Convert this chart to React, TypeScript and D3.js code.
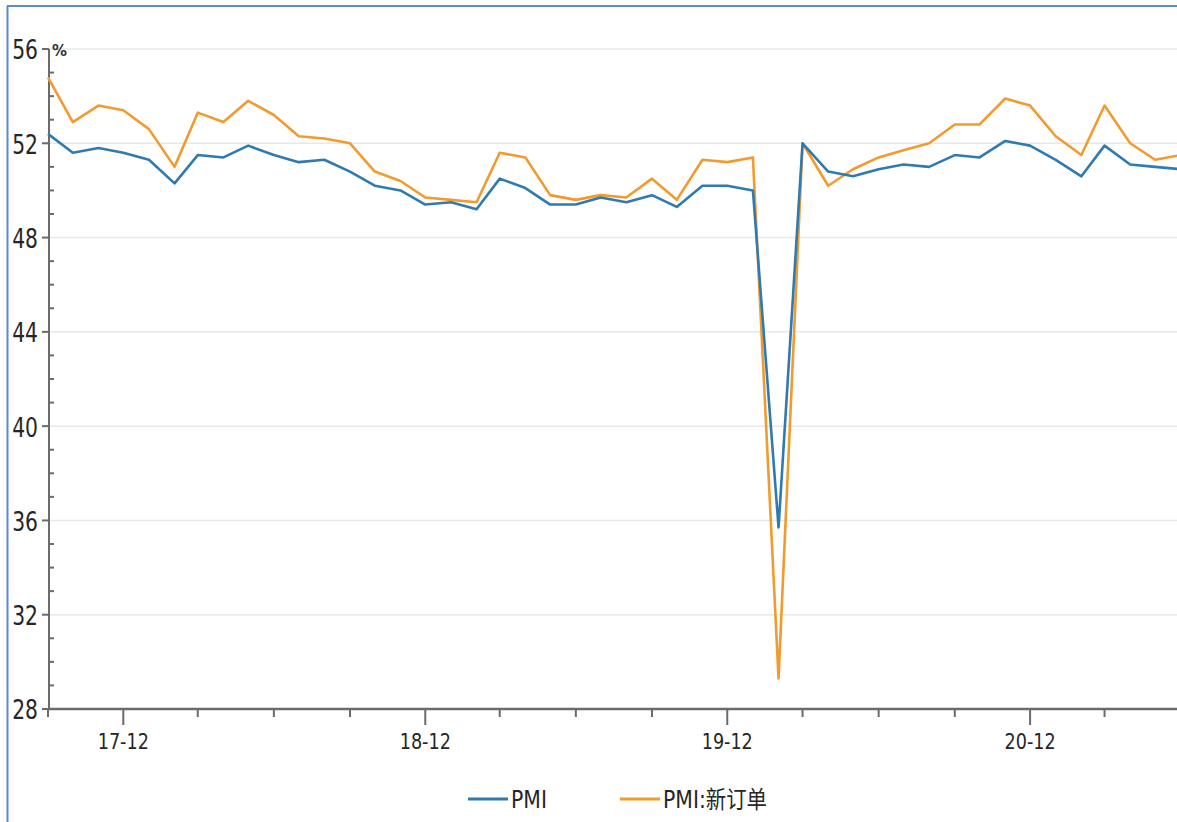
import React from "react";
import * as d3 from "d3";

const startMonth = "2017-09";
const pmi = [
  52.4, 51.6, 51.8, 51.6,
  51.3, 50.3, 51.5, 51.4, 51.9, 51.5, 51.2, 51.3, 50.8, 50.2, 50.0, 49.4,
  49.5, 49.2, 50.5, 50.1, 49.4, 49.4, 49.7, 49.5, 49.8, 49.3, 50.2, 50.2,
  50.0, 35.7, 52.0, 50.8, 50.6, 50.9, 51.1, 51.0, 51.5, 51.4, 52.1, 51.9,
  51.3, 50.6, 51.9, 51.1, 51.0, 50.9,
];
const newOrders = [
  54.8, 52.9, 53.6, 53.4,
  52.6, 51.0, 53.3, 52.9, 53.8, 53.2, 52.3, 52.2, 52.0, 50.8, 50.4, 49.7,
  49.6, 49.5, 51.6, 51.4, 49.8, 49.6, 49.8, 49.7, 50.5, 49.6, 51.3, 51.2,
  51.4, 29.3, 52.0, 50.2, 50.9, 51.4, 51.7, 52.0, 52.8, 52.8, 53.9, 53.6,
  52.3, 51.5, 53.6, 52.0, 51.3, 51.5,
];
const yTicks = [28, 32, 36, 40, 44, 48, 52, 56];
const seriesNames = ["PMI", "PMI:新订单"];
const seriesColors = ["#2f7bb1", "#f39a2e"];

const W = 1177;
const H = 822;
const FONT = "'Liberation Sans Narrow', 'DejaVu Sans', 'Noto Sans CJK SC', sans-serif";

function NText(props: {
  x: number;
  y: number;
  sx: number;
  size: number;
  anchor?: "start" | "middle" | "end";
  children: React.ReactNode;
}) {
  const { x, y, sx, size, anchor = "start", children } = props;
  return (
    <g transform={`translate(${x},${y}) scale(${sx},1)`}>
      <text
        x={0}
        y={0}
        textAnchor={anchor}
        dominantBaseline="central"
        fontFamily={FONT}
        fontSize={size}
        fill="#262626"
      >
        {children}
      </text>
    </g>
  );
}

export default function App() {
  const parse = d3.timeParse("%Y-%m");
  const t0 = parse(startMonth) as Date;
  const dates = pmi.map((_, i) => d3.timeMonth.offset(t0, i));
  const tEnd = d3.timeMonth.offset(t0, 45);

  const x = d3.scaleTime().domain([t0, tEnd]).range([48, 48 + 45 * 25.17]);
  const y = d3.scaleLinear().domain([28, 56]).range([709, 49]);

  const line = d3
    .line<number>()
    .x((_, i) => x(dates[i]))
    .y((d) => y(d));

  const allMonths = d3.timeMonth.range(t0, d3.timeMonth.offset(tEnd, 1));
  const qTicks = allMonths.filter((d) => d.getMonth() % 3 === 2 && x(d) <= W);
  const fmt = d3.timeFormat("%y-%m");

  const minorY = d3.range(28, 57, 1).filter((v) => v % 4 !== 0);
  const axisColor = "#6b6b6b";

  return (
    <div style={{ position: "absolute", left: 0, top: 0 }}>
      <svg width={W} height={H} style={{ display: "block", background: "#fff" }}>
        {/* frame */}
        <line x1={7.5} y1={6} x2={7.5} y2={H} stroke="#5a8ad6" strokeWidth={2} />
        <line x1={7} y1={6} x2={W} y2={6} stroke="#5a8ad6" strokeWidth={2} />

        {/* gridlines */}
        {yTicks.filter((v) => v !== 28).map((v) => (
          <line key={"g" + v} x1={49} x2={W} y1={y(v)} y2={y(v)} stroke="#e8e8e8" strokeWidth={1.5} />
        ))}

        {/* y axis */}
        <line x1={49} x2={49} y1={y(56)} y2={y(28)} stroke={axisColor} strokeWidth={2} />
        {yTicks.map((v) => (
          <g key={"yt" + v}>
            <line x1={42} x2={49} y1={y(v)} y2={y(v)} stroke={axisColor} strokeWidth={2} />
            <NText x={38} y={y(v) + 1} sx={0.78} size={26} anchor="end">
              {v}
            </NText>
          </g>
        ))}
        {minorY.map((v) => (
          <line key={"ym" + v} x1={49} x2={54} y1={y(v)} y2={y(v)} stroke={axisColor} strokeWidth={2} />
        ))}
        <text x={52} y={y(56) + 2} fontFamily="'DejaVu Sans', sans-serif" fontSize={15} fontWeight="bold" fill="#333" dominantBaseline="central">
          %
        </text>

        {/* x axis */}
        <line x1={48} x2={W} y1={y(28)} y2={y(28)} stroke={axisColor} strokeWidth={2.5} />
        {qTicks.map((d) => {
          const major = d.getMonth() === 11;
          return (
            <g key={"xt" + d.getTime()}>
              <line
                x1={x(d)}
                x2={x(d)}
                y1={y(28)}
                y2={y(28) + (major ? 16 : 8)}
                stroke={axisColor}
                strokeWidth={2}
              />
              {major && (
                <NText x={x(d)} y={y(28) + 33} sx={0.8} size={22} anchor="middle">
                  {fmt(d)}
                </NText>
              )}
            </g>
          );
        })}

        {/* series */}
        <path d={line(newOrders) || ""} fill="none" stroke={seriesColors[1]} strokeWidth={2.6} strokeLinejoin="round" />
        <path d={line(pmi) || ""} fill="none" stroke={seriesColors[0]} strokeWidth={2.6} strokeLinejoin="round" />

        {/* legend */}
        {seriesNames.map((name, i) => {
          const lx = i === 0 ? 468 : 620;
          return (
            <g key={"lg" + i}>
              <line x1={lx} x2={lx + 40} y1={799} y2={799} stroke={seriesColors[i]} strokeWidth={3} />
              <NText x={lx + 43} y={799} sx={0.85} size={24}>
                {name}
              </NText>
            </g>
          );
        })}
      </svg>
    </div>
  );
}
